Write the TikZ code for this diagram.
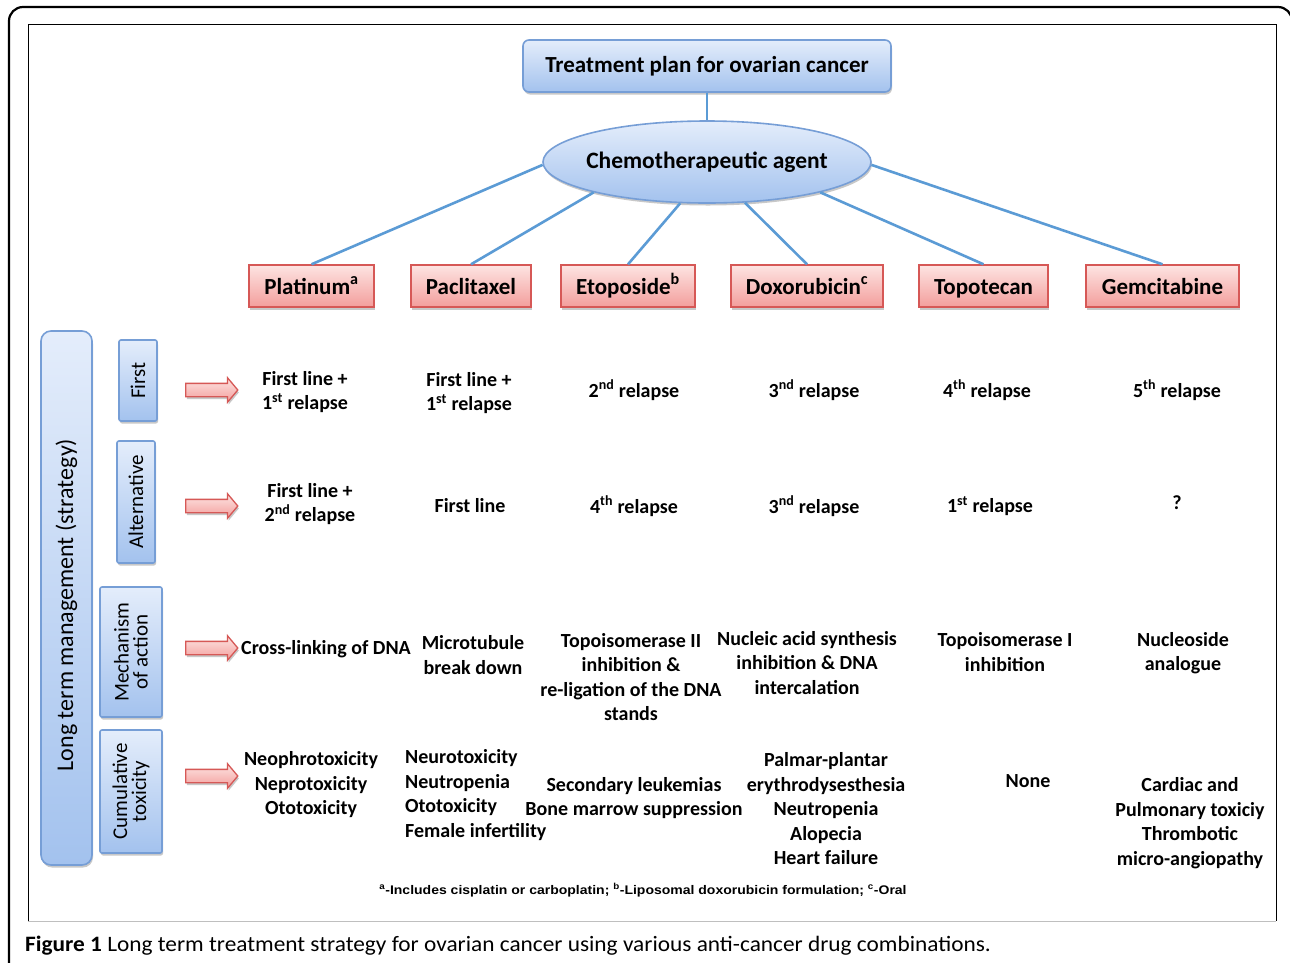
\documentclass[tikz,border=0pt]{standalone}
\usepackage{fontspec}
\setmainfont{Carlito}
\newfontfamily\arialf{Liberation Sans}
\usetikzlibrary{shapes.geometric,shapes.arrows,shadows}
\definecolor{bluefillT}{RGB}{228,237,251}
\definecolor{bluefillB}{RGB}{163,194,238}
\definecolor{blueline}{RGB}{118,158,214}
\definecolor{conn}{RGB}{91,155,213}
\definecolor{redT}{RGB}{253,228,226}
\definecolor{redB}{RGB}{243,158,156}
\definecolor{redline}{RGB}{214,88,86}
\tikzset{
  shad/.style={drop shadow={shadow xshift=1pt,shadow yshift=-2.5pt,opacity=0.3,fill=black!70}},
  bluebox/.style={draw=blueline,line width=1.6pt,rounded corners=6pt,top color=bluefillT,bottom color=bluefillB,shad,inner sep=0pt},
  ell/.style={ellipse,draw=blueline,line width=1.6pt,top color=bluefillT,bottom color=bluefillB,shad,inner xsep=-5pt,inner ysep=0pt},
  drug/.style={draw=redline,line width=1.4pt,top color=redT,bottom color=redB,shad,inner sep=0pt,minimum height=42pt,text height=20pt,text depth=4pt,font=\fontsize{23}{26}\selectfont\bfseries},
  sidebox/.style={bluebox,rotate=90,rounded corners=2pt,font=\fontsize{21}{22}\selectfont,align=center},
  conn/.style={draw=conn,line width=2.6pt},
  barrow/.style={single arrow,draw=redline,line width=1.3pt,top color=redT,bottom color=redB,minimum height=52pt,single arrow head extend=5.5pt,single arrow tip angle=100,inner sep=0pt,shad},
  cell/.style={align=center,inner sep=0pt,font=\fontsize{20}{24.5}\selectfont\bfseries},
}
\newcommand{\sups}[1]{\textsuperscript{#1}}
\newcommand{\shaft}{\rule[-6pt]{0pt}{12pt}}
\begin{document}
\begin{tikzpicture}[x=1pt,y=-1pt]
\useasboundingbox (0,0) rectangle (1290,962);
\fill[white] (0,0) rectangle (1290,962);
% frames
\draw[line width=2.2pt,rounded corners=14pt] (9,990) -- (9,7) -- (1292,7) -- (1292,990);
\draw[line width=1pt] (28,921) -- (28,24) -- (1276,24) -- (1276,921);
\draw[line width=1pt,black!25] (28,921) -- (1276,921);
% top
\node[bluebox,minimum width=368pt,minimum height=52pt,font=\fontsize{23}{26}\selectfont\bfseries] (title) at (707,66) {Treatment plan for ovarian cancer};
\node[ell,minimum width=328pt,minimum height=82pt,font=\fontsize{23.5}{26}\selectfont\bfseries] (chemo) at (707,162) {Chemotherapeutic agent};
\draw[conn] (title.south) -- (chemo.north);
% drugs
\node[drug,minimum width=125pt] (pla) at (311.5,286) {Platinum\sups{a}};
\node[drug,minimum width=120pt] (pac) at (471,286) {Paclitaxel};
\node[drug,minimum width=134pt] (eto) at (628,286) {Etoposide\sups{b}};
\node[drug,minimum width=152pt] (dox) at (807,286) {Doxorubicin\sups{c}};
\node[drug,minimum width=129pt] (top) at (983.5,286) {Topotecan};
\node[drug,minimum width=153pt] (gem) at (1162.5,286) {Gemcitabine};
\draw[conn] (chemo.181) -- (pla.north);
\draw[conn] (chemo.195) -- (pac.north);
\draw[conn] (chemo.237) -- (eto.north);
\draw[conn] (chemo.313) -- (dox.north);
\draw[conn] (chemo.345) -- (top.north);
\draw[conn] (chemo.359) -- (gem.north);
% left side
\node[bluebox,rotate=90,rounded corners=10pt,minimum width=534pt,minimum height=51pt,font=\fontsize{24}{26}\selectfont] (ltm) at (66.5,598) {\hspace*{-14pt}Long term management (strategy)};
\node[sidebox,minimum width=81pt,minimum height=38pt] (first) at (138,380.5) {First};
\node[sidebox,minimum width=122pt,minimum height=38pt] (alt) at (136,502) {Alternative};
\node[sidebox,minimum width=130pt,minimum height=62pt] (mech) at (131,652) {Mechanism\\[-3pt]of action};
\node[sidebox,minimum width=123pt,minimum height=62pt] (cum) at (131,791.5) {Cumulative\\[-3pt]toxicity};
% arrows
\node[barrow] (a1) at (209,390) {\shaft};
\node[barrow] (a2) at (209,506) {\shaft};
\node[barrow] (a3) at (209,648) {\shaft};
\node[barrow] (a4) at (209,776) {\shaft};
% row 1
\node[cell] (r1c1) at (305,392) {First line +\\1\sups{st} relapse};
\node[cell] (r1c2) at (469,393) {First line +\\1\sups{st} relapse};
\node[cell] (r1c3) at (634,390) {2\sups{nd} relapse};
\node[cell] (r1c4) at (814,390) {3\sups{nd} relapse};
\node[cell] (r1c5) at (987,390) {4\sups{th} relapse};
\node[cell] (r1c6) at (1177,390) {5\sups{th} relapse};
% row 2
\node[cell] (r2c1) at (310,504) {First line +\\2\sups{nd} relapse};
\node[cell] (r2c2) at (470,506) {First line};
\node[cell] (r2c3) at (634,506) {4\sups{th} relapse};
\node[cell] (r2c4) at (814,506) {3\sups{nd} relapse};
\node[cell] (r2c5) at (990,506) {1\sups{st} relapse};
\node[cell] (r2c6) at (1177,503) {?};
% row 3
\node[cell] (r3c1) at (326,649) {Cross-linking of DNA};
\node[cell] (r3c2) at (473,655) {Microtubule\\break down};
\node[cell] (r3c3) at (631,677) {Topoisomerase II\\inhibition \&\\re-ligation of the DNA\\stands};
\node[cell] (r3c4) at (807,663) {Nucleic acid synthesis\\inhibition \& DNA\\intercalation};
\node[cell] (r3c5) at (1005,652) {Topoisomerase I\\inhibition};
\node[cell] (r3c6) at (1183,653) {Nucleoside\\analogue};
% row 4
\node[cell] (r4c1) at (311,785) {Neophrotoxicity\\Neprotoxicity\\Ototoxicity};
\node[cell,align=left,anchor=west] (r4c2) at (405,795) {Neurotoxicity\\Neutropenia\\Ototoxicity\\Female infertility};
\node[cell] (r4c3) at (634,798) {Secondary leukemias\\Bone marrow suppression};
\node[cell] (r4c4) at (826,809) {Palmar-plantar\\erythrodysesthesia\\Neutropenia\\Alopecia\\Heart failure};
\node[cell] (r4c5) at (1028,781) {None};
\node[cell] (r4c6) at (1190,823) {Cardiac and\\Pulmonary toxiciy\\Thrombotic\\micro-angiopathy};
% footnote
\node[inner sep=0pt,font=\arialf\bfseries\fontsize{12.5}{14}\selectfont] (fn) at (643,890) {\scalebox{1.12}[1]{\sups{a}-Includes cisplatin or carboplatin; \sups{b}-Liposomal doxorubicin formulation; \sups{c}-Oral}};
% caption
\node[inner sep=0pt,anchor=west,font=\fontsize{22}{24}\selectfont] (cap) at (25,946) {\scalebox{1.06}[1]{\textbf{Figure 1} Long term treatment strategy for ovarian cancer using various anti-cancer drug combinations.}};
\end{tikzpicture}
\end{document}
